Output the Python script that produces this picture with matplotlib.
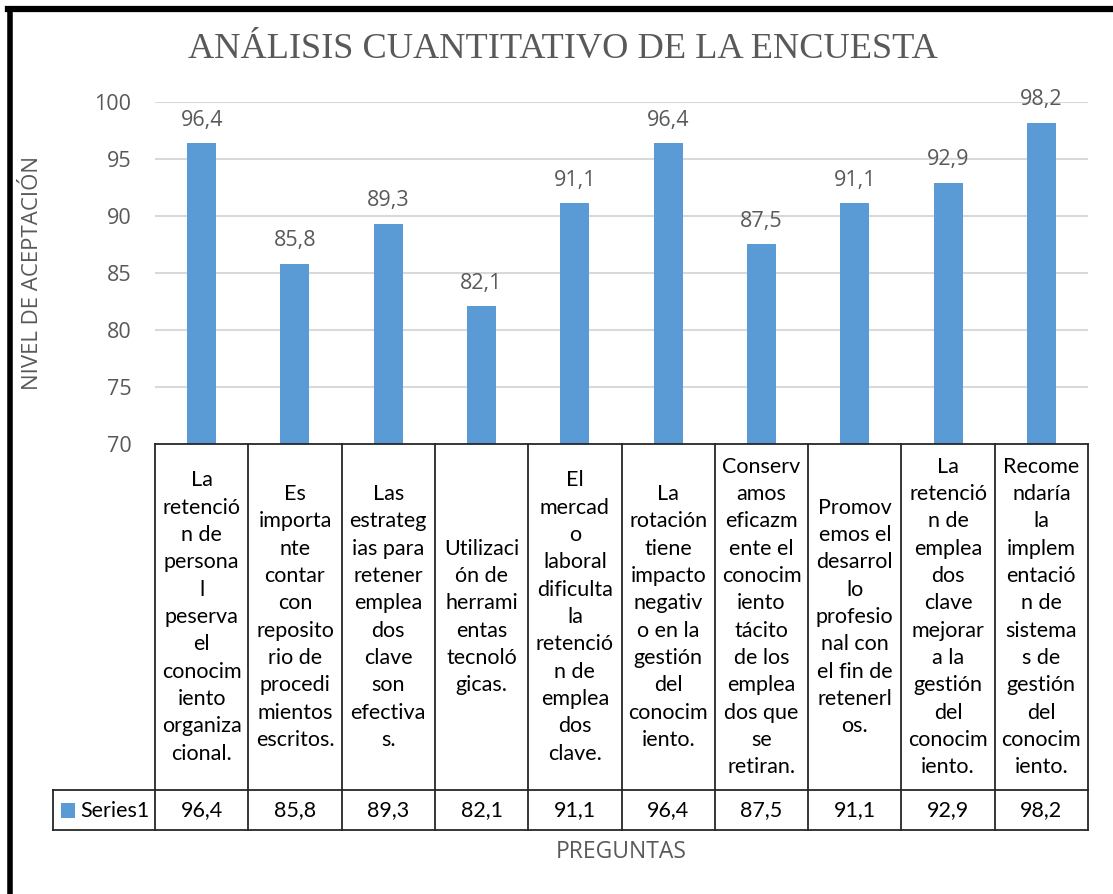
import os
import matplotlib
matplotlib.use("Agg")
import matplotlib.pyplot as plt
from matplotlib.lines import Line2D
from matplotlib import font_manager as fm
import matplotlib.transforms as mtransforms

# prefer static Open Sans file if available
_os_static = "/usr/share/fonts/truetype/open-sans/OpenSans-Regular.ttf"
if os.path.exists(_os_static):
    fm.fontManager.addfont(_os_static)
    OPEN = fm.FontProperties(fname=_os_static).get_name()
else:
    OPEN = "Open Sans"

categories = [
    "La\nretenció\nn de\npersona\nl\npeserva\nel\nconocim\niento\norganiza\ncional.",
    "Es\nimporta\nnte\ncontar\ncon\nreposito\nrio de\nprocedi\nmientos\nescritos.",
    "Las\nestrateg\nias para\nretener\nemplea\ndos\nclave\nson\nefectiva\ns.",
    "Utilizaci\nón de\nherrami\nentas\ntecnoló\ngicas.",
    "El\nmercad\no\nlaboral\ndificulta\nla\nretenció\nn de\nemplea\ndos\nclave.",
    "La\nrotación\ntiene\nimpacto\nnegativ\no en la\ngestión\ndel\nconocim\niento.",
    "Conserv\namos\neficazm\nente el\nconocim\niento\ntácito\nde los\nemplea\ndos que\nse\nretiran.",
    "Promov\nemos el\ndesarrol\nlo\nprofesio\nnal con\nel fin de\nretenerl\nos.",
    "La\nretenció\nn de\nemplea\ndos\nclave\nmejorar\na la\ngestión\ndel\nconocim\niento.",
    "Recome\nndaría\nla\nimplem\nentació\nn de\nsistema\ns de\ngestión\ndel\nconocim\niento.",
]
values = [96.4, 85.8, 89.3, 82.1, 91.1, 96.4, 87.5, 91.1, 92.9, 98.2]
series_name = "Series1"
yticks = [70, 75, 80, 85, 90, 95, 100]
title = "ANÁLISIS CUANTITATIVO DE LA ENCUESTA"
ylabel = "NIVEL DE ACEPTACIÓN"
xlabel = "PREGUNTAS"

W, H = 1113, 894
BAR = "#5B9BD5"
GRAY = "#595959"
fig = plt.figure(figsize=(W / 100, H / 100), dpi=100)
fig.patch.set_facecolor("white")

# plot area in pixels
L, R, T, B = 155, 1088, 102, 444
ax = fig.add_axes([L / W, 1 - B / H, (R - L) / W, (B - T) / H])
n = len(values)
x = list(range(n))
ax.bar(x, values, width=0.31, color=BAR, zorder=3)
ax.set_xlim(-0.5, n - 0.5)
ax.set_ylim(70, 100)
ax.set_yticks(yticks)
ax.set_yticklabels([str(v) for v in yticks], fontfamily=OPEN, fontsize=15.5, color=GRAY)
ax.tick_params(axis="y", length=0, pad=17)
ax.set_xticks([])
for s in ax.spines.values():
    s.set_visible(False)
for v in yticks[1:]:
    ax.axhline(v, color="#D9D9D9", lw=1.5, zorder=1)

def fmt(v):
    return f"{v:.1f}".replace(".", ",")

for xi, v in zip(x, values):
    ax.annotate(fmt(v), (xi, v), xytext=(0, 9), textcoords="offset points",
                ha="center", va="bottom", fontfamily=OPEN, fontsize=15.5, color=GRAY)

# table
tr = mtransforms.blended_transform_factory(ax.transData, ax.transAxes)
ph = B - T
y_head = -(790 - B) / ph
y_row = -(830 - B) / ph
xleg = -0.5 - (L - 53) / ((R - L) / n)
lc = "#262626"
lw = 1.3
def seg(xs, ys):
    ax.add_line(Line2D(xs, ys, transform=tr, color=lc, lw=lw, clip_on=False, zorder=5))

seg([-0.5, n - 0.5], [0, 0])
seg([xleg, n - 0.5], [y_head, y_head])
seg([xleg, n - 0.5], [y_row, y_row])
for i in range(n + 1):
    seg([i - 0.5, i - 0.5], [0, y_row])
seg([xleg, xleg], [y_head, y_row])

ymid_head = y_head / 2
ymid_row = (y_head + y_row) / 2
for xi, c, v in zip(x, categories, values):
    ax.text(xi, ymid_head, c, transform=tr, ha="center", va="center", fontfamily="Lato",
            fontsize=15.5, linespacing=1.46, color="black")
    ax.text(xi, ymid_row, fmt(v), transform=tr, ha="center", va="center", fontfamily="Lato",
            fontsize=15.5, color="black")

# legend key in table
fig.patches.append(plt.Rectangle((61 / W, 1 - 818 / H), 14 / W, 15 / H, transform=fig.transFigure,
                                 facecolor=BAR, edgecolor="none"))
fig.text(80 / W, 1 - 811 / H, series_name, ha="left", va="center", fontfamily="Lato",
         fontsize=15.5, color="black")

# titles
fig.text(563 / W, 1 - 50 / H, title, ha="center", va="center",
         fontfamily=["Liberation Serif", "DejaVu Serif"], fontsize=26.2, color=GRAY)
fig.text(33 / W, 1 - 273 / H, ylabel, ha="center", va="center", rotation=90,
         fontfamily=OPEN, fontsize=16, color=GRAY)
fig.text(621 / W, 1 - 852 / H, xlabel, ha="center", va="center", fontfamily=OPEN,
         fontsize=16.5, color=GRAY)

# outer border (left and top visible)
fig.lines.append(Line2D([9.5 / W, 9.5 / W], [0, 1 - 9 / H], transform=fig.transFigure, color="black", lw=4))
fig.lines.append(Line2D([7.5 / W, 1], [1 - 9 / H, 1 - 9 / H], transform=fig.transFigure, color="black", lw=4.5))

fig.savefig("out.png", dpi=100, facecolor="white")
